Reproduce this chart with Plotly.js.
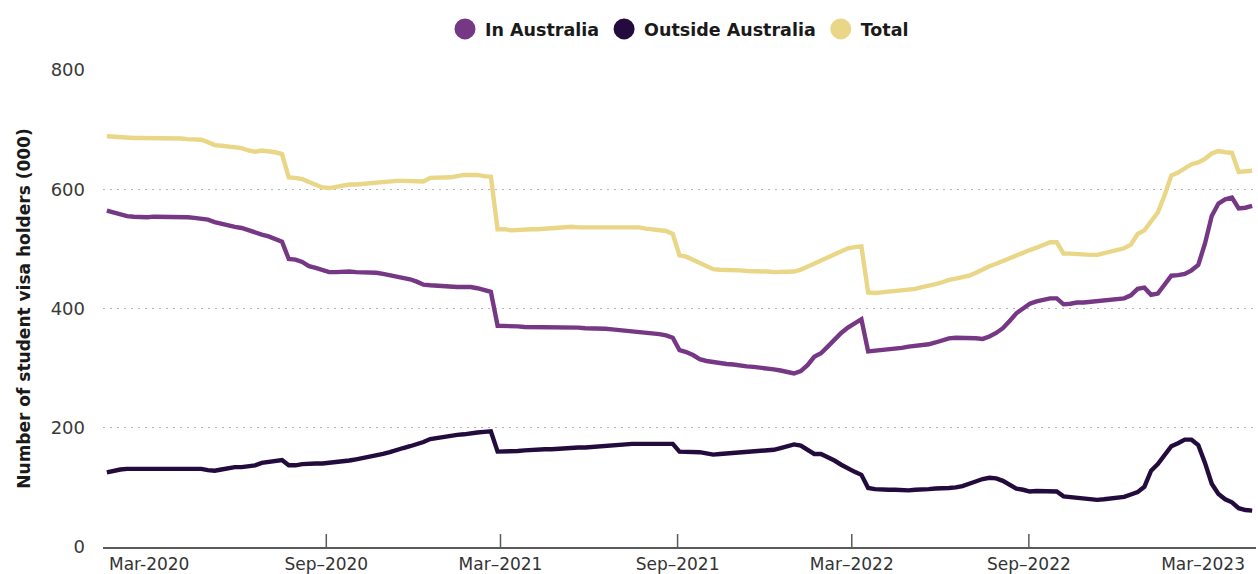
<!DOCTYPE html>
<html>
<head>
<meta charset="utf-8">
<script src="https://cdn.plot.ly/plotly-3.0.1.min.js"></script>
<style>html,body{margin:0;padding:0;background:#fff;}#chart{width:1258px;height:574px;}</style>
</head>
<body>
<div id="chart"></div>
<script>
// Weekly observation dates
const dates = [
"2020-01-17","2020-01-24","2020-01-31","2020-02-07","2020-02-14","2020-02-21","2020-02-28","2020-03-06","2020-03-13","2020-03-20",
"2020-03-27","2020-04-03","2020-04-10","2020-04-17","2020-04-24","2020-05-01","2020-05-08","2020-05-15","2020-05-22","2020-05-29",
"2020-06-05","2020-06-12","2020-06-19","2020-06-26","2020-07-03","2020-07-10","2020-07-17","2020-07-24","2020-07-31","2020-08-07",
"2020-08-14","2020-08-21","2020-08-28","2020-09-04","2020-09-11","2020-09-18","2020-09-25","2020-10-02","2020-10-09","2020-10-16",
"2020-10-23","2020-10-30","2020-11-06","2020-11-13","2020-11-20","2020-11-27","2020-12-04","2020-12-11","2020-12-18","2020-12-25",
"2021-01-01","2021-01-08","2021-01-15","2021-01-22","2021-01-29","2021-02-05","2021-02-12","2021-02-19","2021-02-26","2021-03-05",
"2021-03-12","2021-03-19","2021-03-26","2021-04-02","2021-04-09","2021-04-16","2021-04-23","2021-04-30","2021-05-07","2021-05-14",
"2021-05-21","2021-05-28","2021-06-04","2021-06-11","2021-06-18","2021-06-25","2021-07-02","2021-07-09","2021-07-16","2021-07-23",
"2021-07-30","2021-08-06","2021-08-13","2021-08-20","2021-08-27","2021-09-03","2021-09-10","2021-09-17","2021-09-24","2021-10-01",
"2021-10-08","2021-10-15","2021-10-22","2021-10-29","2021-11-05","2021-11-12","2021-11-19","2021-11-26","2021-12-03","2021-12-10",
"2021-12-17","2021-12-24","2021-12-31","2022-01-07","2022-01-14","2022-01-21","2022-01-28","2022-02-04","2022-02-11","2022-02-18",
"2022-02-25","2022-03-04","2022-03-11","2022-03-18","2022-03-25","2022-04-01","2022-04-08","2022-04-15","2022-04-22","2022-04-29",
"2022-05-06","2022-05-13","2022-05-20","2022-05-27","2022-06-03","2022-06-10","2022-06-17","2022-06-24","2022-07-01","2022-07-08",
"2022-07-15","2022-07-22","2022-07-29","2022-08-05","2022-08-12","2022-08-19","2022-08-26","2022-09-02","2022-09-09","2022-09-16",
"2022-09-23","2022-09-30","2022-10-07","2022-10-14","2022-10-21","2022-10-28","2022-11-04","2022-11-11","2022-11-18","2022-11-25",
"2022-12-02","2022-12-09","2022-12-16","2022-12-23","2022-12-30","2023-01-06","2023-01-13","2023-01-20","2023-01-27","2023-02-03",
"2023-02-10","2023-02-17","2023-02-24","2023-03-03","2023-03-10","2023-03-17","2023-03-24","2023-03-31","2023-04-07","2023-04-14",
"2023-04-21"
];

// Student visa holders (000)
const inAustralia = [
564,561,557,555,554,553,553,554,554,554,
554,554,553,552,551,549,545,542,540,537,
535,531,527,524,521,517,512,483,482,478,
471,468,464,461,461,462,462,461,461,461,
460,458,456,454,452,449,445,440,439,438,
437,436,436,436,436,434,431,428,371,371,
370,370,369,369,368,368,368,369,369,368,
368,367,367,366,366,365,364,363,362,361,
359,359,357,355,351,330,327,322,315,312,
310,308,307,306,304,303,302,301,300,298,
296,294,291,295,305,319,325,336,348,359,
368,376,382,328,329,330,331,332,334,336,
337,338,340,343,347,350,351,351,350,350,
349,353,359,367,379,392,400,408,412,415,
417,417,407,408,410,410,411,413,414,415,
416,417,422,433,435,423,425,439,455,456,
458,464,473,509,555,576,583,586,568,569,572
];

const outsideAustralia = [
125,128,130,131,131,131,130,130,130,130,
130,130,131,131,131,129,128,130,132,134,
134,135,137,141,143,145,146,137,137,139,
140,140,140,141,143,144,145,147,149,151,
154,156,159,163,166,169,172,176,181,183,
185,186,188,189,191,192,193,194,160,160,
160,161,162,163,163,164,164,165,165,166,
167,167,168,169,169,170,171,172,173,173,
173,173,173,174,173,160,160,160,159,157,
155,156,157,158,159,159,160,161,162,163,
166,169,172,170,164,156,156,151,145,138,
131,126,121,99,97,96,96,96,95,95,
96,96,97,98,98,99,100,102,106,110,
114,116,115,111,105,98,96,93,94,94,
94,93,85,84,83,81,80,79,80,81,
82,84,88,92,101,128,139,155,169,174,
180,180,171,141,106,89,80,75,65,62,61
];

const total = [
689,688,688,687,686,686,686,686,686,686,
685,685,684,684,683,679,674,673,672,671,
669,665,663,665,664,662,659,620,619,617,
612,607,603,602,604,606,608,608,609,611,
612,613,614,614,614,614,613,613,619,619,
619,620,622,624,624,624,622,621,533,533,
531,532,533,533,533,534,535,536,537,537,
536,536,536,537,537,537,537,536,537,536,
534,533,532,530,525,489,487,482,475,471,
466,465,465,465,464,463,463,463,462,461,
461,462,462,465,470,477,482,487,492,497,
501,503,504,427,426,427,428,430,430,432,
433,436,438,441,444,448,450,452,455,460,
466,471,475,480,485,490,494,498,502,507,
511,511,492,492,491,490,490,490,493,495,
498,501,507,525,531,546,561,590,623,628,
636,642,645,651,660,664,662,661,629,630,631
];

const seriesNames = ["In Australia", "Outside Australia", "Total"];
const seriesColors = ["#763884", "#230c3d", "#e9d686"];

const tickDates = ["2020-03-01","2020-09-01","2021-03-01","2021-09-01","2022-03-01","2022-09-01","2023-03-01"];
const tickLabels = ["Mar-2020","Sep–2020","Mar–2021","Sep–2021","Mar–2022","Sep–2022","Mar–2023"];
const tickMarkDates = ["2020-09-01","2021-03-01","2021-09-01","2022-03-01","2022-09-01"];
const yTicks = [0, 200, 400, 600, 800];
const xRange = ["2020-01-13", "2023-04-25"];
const yRange = [0, 800];

const seriesValues = [inAustralia, outsideAustralia, total];

const lineTraces = seriesValues.map((vals, k) => ({
  type: "scatter",
  mode: "lines",
  x: dates,
  y: vals,
  name: seriesNames[k],
  showlegend: false,
  line: { color: seriesColors[k], width: 4.4, shape: "linear" },
  hoverinfo: "skip"
}));

const legendTraces = seriesNames.map((nm, k) => ({
  type: "scatter",
  mode: "markers",
  x: [null],
  y: [null],
  name: nm,
  showlegend: true,
  marker: { color: seriesColors[k], size: 16, symbol: "circle", line: { color: seriesColors[k], width: 5 } },
  hoverinfo: "skip"
}));

const plotHeight = 574 - 70 - 27;

const layout = {
  width: 1258,
  height: 574,
  margin: { l: 103, r: 2, t: 70, b: 27, pad: 0 },
  paper_bgcolor: "#ffffff",
  plot_bgcolor: "#ffffff",
  font: { family: "DejaVu Sans", color: "#333333" },
  showlegend: true,
  legend: {
    orientation: "h",
    x: 0.5, xanchor: "center",
    y: 1 + 41 / plotHeight, yanchor: "middle",
    traceorder: "normal",
    font: { family: "DejaVu Sans", size: 17.5, weight: 700, color: "#1a1a1a" },
    bgcolor: "rgba(0,0,0,0)"
  },
  xaxis: {
    type: "date",
    range: xRange,
    tickmode: "array",
    tickvals: tickDates,
    ticktext: tickLabels,
    ticks: "",
    showgrid: false,
    zeroline: false,
    showline: true,
    linecolor: "#5a5a5a",
    linewidth: 1.5,
    tickfont: { family: "DejaVu Sans", size: 17, color: "#333333" },
    ticklabelstandoff: 1,
    fixedrange: true
  },
  yaxis: {
    range: yRange,
    tickmode: "array",
    tickvals: yTicks,
    ticks: "",
    showgrid: true,
    gridcolor: "#b5b5b5",
    griddash: "2px,5px",
    gridwidth: 1.3,
    zeroline: false,
    showline: false,
    ticklabelstandoff: 17,
    tickfont: { family: "DejaVu Sans", size: 18, color: "#3a3a3a" },
    title: {
      text: "Number of student visa holders (000)",
      font: { family: "DejaVu Sans", size: 17, weight: 700, color: "#1a1a1a" },
      standoff: 15
    },
    fixedrange: true
  },
  shapes: tickMarkDates.map(d => ({
    type: "line", xref: "x", yref: "paper",
    x0: d, x1: d, y0: 0, y1: 13 / plotHeight,
    line: { color: "#5a5a5a", width: 1.5 }
  }))
};

Plotly.newPlot("chart", lineTraces.concat(legendTraces), layout, { staticPlot: true, displayModeBar: false });
</script>
</body>
</html>
